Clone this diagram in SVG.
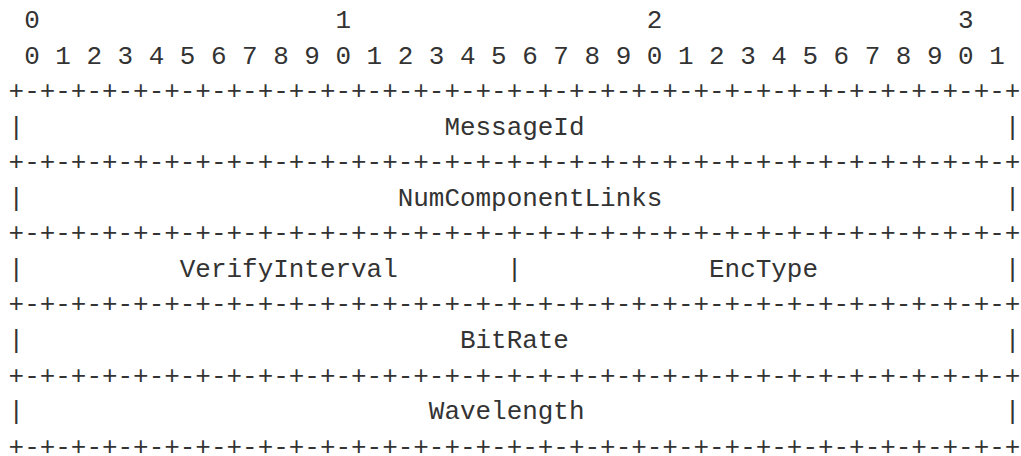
<svg xmlns="http://www.w3.org/2000/svg" width="1021" height="456" viewBox="0 0 1021 456">
<style>
text{font-family:"Liberation Mono","DejaVu Sans Mono",monospace;font-size:25.95px;fill:#333;white-space:pre}
</style>
<rect width="1021" height="456" fill="#fff"/>
<g id="ruler">
<text x="8.6" y="28" xml:space="preserve"> 0                   1                   2                   3</text>
<text x="8.6" y="63.55" xml:space="preserve"> 0 1 2 3 4 5 6 7 8 9 0 1 2 3 4 5 6 7 8 9 0 1 2 3 4 5 6 7 8 9 0 1</text>
</g>
<g id="borders">
<text x="8.6" y="99.1">+-+-+-+-+-+-+-+-+-+-+-+-+-+-+-+-+-+-+-+-+-+-+-+-+-+-+-+-+-+-+-+-+</text>
<text x="8.6" y="170.2">+-+-+-+-+-+-+-+-+-+-+-+-+-+-+-+-+-+-+-+-+-+-+-+-+-+-+-+-+-+-+-+-+</text>
<text x="8.6" y="241.3">+-+-+-+-+-+-+-+-+-+-+-+-+-+-+-+-+-+-+-+-+-+-+-+-+-+-+-+-+-+-+-+-+</text>
<text x="8.6" y="312.4">+-+-+-+-+-+-+-+-+-+-+-+-+-+-+-+-+-+-+-+-+-+-+-+-+-+-+-+-+-+-+-+-+</text>
<text x="8.6" y="383.5">+-+-+-+-+-+-+-+-+-+-+-+-+-+-+-+-+-+-+-+-+-+-+-+-+-+-+-+-+-+-+-+-+</text>
<text x="8.6" y="454.6">+-+-+-+-+-+-+-+-+-+-+-+-+-+-+-+-+-+-+-+-+-+-+-+-+-+-+-+-+-+-+-+-+</text>
</g>
<g id="field-messageid">
<text x="8.6" y="134.65" xml:space="preserve">|                           MessageId                           |</text>
</g>
<g id="field-numcomponentlinks">
<text x="8.6" y="205.75" xml:space="preserve">|                        NumComponentLinks                      |</text>
</g>
<g id="field-verifyinterval-enctype">
<text x="8.6" y="276.85" xml:space="preserve">|          VerifyInterval       |            EncType            |</text>
</g>
<g id="field-bitrate">
<text x="8.6" y="347.95" xml:space="preserve">|                            BitRate                            |</text>
</g>
<g id="field-wavelength">
<text x="8.6" y="419.05" xml:space="preserve">|                          Wavelength                           |</text>
</g>
<g id="connectors"/>
</svg>
